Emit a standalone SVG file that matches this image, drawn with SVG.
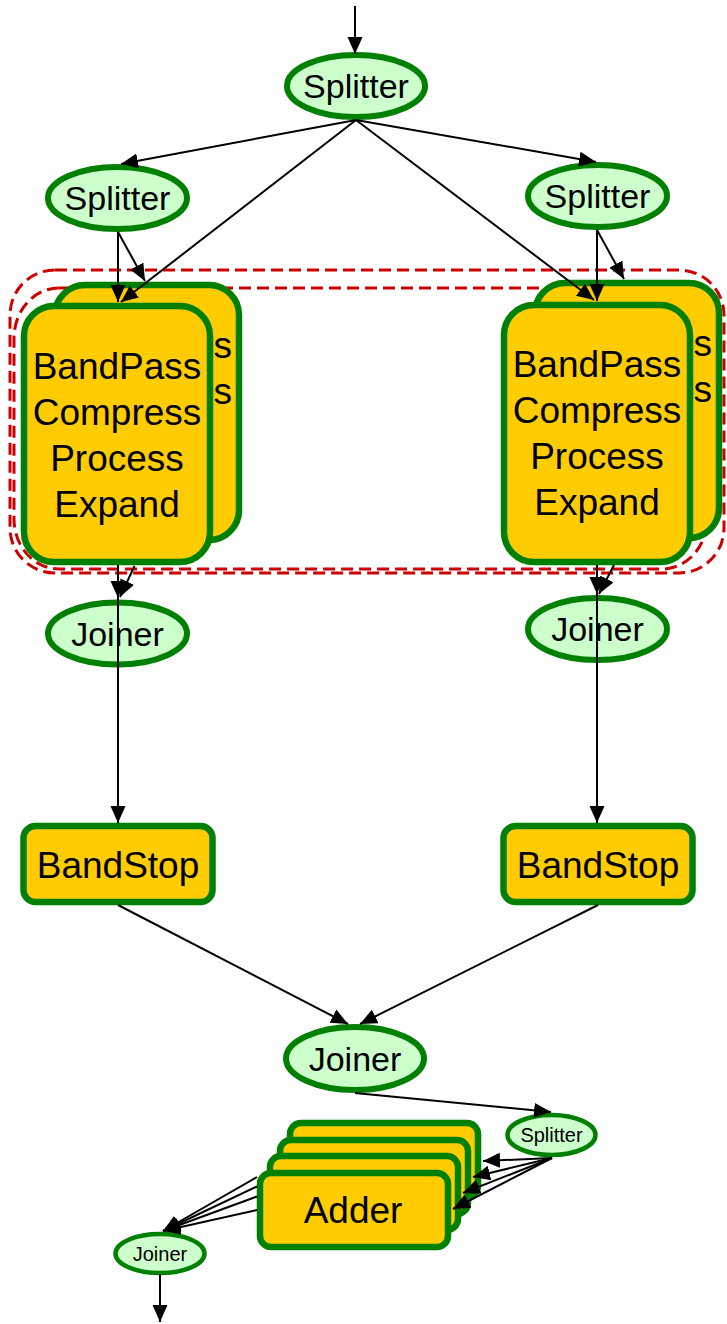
<svg xmlns="http://www.w3.org/2000/svg" width="727" height="1324" viewBox="0 0 727 1324">
<defs>
<style>
.ell{fill:#ccffcc;stroke:#008000;stroke-width:6}
.ells{fill:#ccffcc;stroke:#008000;stroke-width:4.5}
.box{fill:#ffcc00;stroke:#008000;stroke-width:6.5}
.t{font-family:"Liberation Sans",Arial,sans-serif;fill:#000;text-anchor:middle}
.te{text-anchor:end}
.t34{font-size:34px}
.t37{font-size:37px}
.t20{font-size:20px}
.e{stroke:#000;stroke-width:2;fill:none;marker-end:url(#ah)}
.cl{fill:none;stroke:#cc0000;stroke-width:3;stroke-dasharray:12 6}
</style>
<marker id="ah" markerUnits="userSpaceOnUse" markerWidth="18" markerHeight="16" refX="17" refY="7.5" orient="auto">
<path d="M0,0 L17,7.5 L0,15 z" fill="#000"/>
</marker>
</defs>
<rect width="727" height="1324" fill="#fff"/>

<g id="clusters">
<rect class="cl" x="10" y="270" width="714" height="303" rx="45" ry="45"/>
<rect class="cl" x="14" y="288" width="693" height="281" rx="45" ry="50"/>
</g>

<g id="splitter-top"><ellipse class="ell" cx="356" cy="86" rx="69" ry="31"/><text class="t t34" x="356" y="98">Splitter</text></g>
<g id="splitter-left"><ellipse class="ell" cx="117.5" cy="198" rx="69.5" ry="31"/><text class="t t34" x="117.5" y="210">Splitter</text></g>
<g id="splitter-right"><ellipse class="ell" cx="597.5" cy="196" rx="69.5" ry="31"/><text class="t t34" x="597.5" y="208">Splitter</text></g>

<g id="bp-left-back"><rect class="box" x="55" y="285" width="184" height="255" rx="30"/>
<text class="t te t37" x="232" y="358">s</text><text class="t te t37" x="232" y="404">s</text></g>
<g id="bp-left-front"><rect class="box" x="24" y="306" width="186" height="256" rx="30"/>
<text class="t t37" x="117" y="379">BandPass</text><text class="t t37" x="117" y="425">Compress</text><text class="t t37" x="117" y="471">Process</text><text class="t t37" x="117" y="517">Expand</text></g>

<g id="bp-right-back"><rect class="box" x="535" y="283" width="184" height="255" rx="30"/>
<text class="t te t37" x="712" y="356">s</text><text class="t te t37" x="712" y="402">s</text></g>
<g id="bp-right-front"><rect class="box" x="504" y="305" width="186" height="257" rx="30"/>
<text class="t t37" x="597" y="377">BandPass</text><text class="t t37" x="597" y="423">Compress</text><text class="t t37" x="597" y="469">Process</text><text class="t t37" x="597" y="515">Expand</text></g>

<g id="joiner-left"><ellipse class="ell" cx="117.5" cy="633.5" rx="69.5" ry="31"/><text class="t t34" x="117.5" y="645.5">Joiner</text></g>
<g id="joiner-right"><ellipse class="ell" cx="597.5" cy="629" rx="69.5" ry="31"/><text class="t t34" x="597.5" y="641">Joiner</text></g>

<g id="bandstop-left"><rect class="box" x="23.5" y="826" width="189" height="76" rx="12"/><text class="t t37" x="118" y="878">BandStop</text></g>
<g id="bandstop-right"><rect class="box" x="503.5" y="826" width="189" height="76" rx="12"/><text class="t t37" x="598" y="878">BandStop</text></g>

<g id="joiner-mid"><ellipse class="ell" cx="355" cy="1058.5" rx="69" ry="31.5"/><text class="t t34" x="355" y="1070.5">Joiner</text></g>

<g id="splitter-small"><ellipse class="ells" cx="551.5" cy="1135" rx="44" ry="20"/><text class="t t20" x="551.5" y="1142">Splitter</text></g>

<g id="adder-4"><rect class="box" x="290" y="1123" width="188" height="74" rx="11"/></g>
<g id="adder-3"><rect class="box" x="280" y="1140" width="188" height="74" rx="11"/></g>
<g id="adder-2"><rect class="box" x="270" y="1156" width="188" height="74" rx="11"/></g>
<g id="adder-1"><rect class="box" x="260" y="1173" width="188" height="74" rx="11"/><text class="t t37" x="353" y="1223">Adder</text></g>

<g id="joiner-small"><ellipse class="ells" cx="160" cy="1253.5" rx="44.5" ry="19.5"/><text class="t t20" x="160" y="1260.5">Joiner</text></g>

<g id="connectors">
<line class="e" x1="355" y1="6" x2="355" y2="54"/>
<line class="e" x1="356" y1="120" x2="121" y2="164"/>
<line class="e" x1="356" y1="120" x2="596" y2="162"/>
<line class="e" x1="356" y1="120" x2="121" y2="302"/>
<line class="e" x1="356" y1="120" x2="594" y2="300"/>
<line class="e" x1="118" y1="232" x2="118" y2="302"/>
<line class="e" x1="118" y1="232" x2="145" y2="281"/>
<line class="e" x1="597" y1="230" x2="597" y2="301"/>
<line class="e" x1="597" y1="230" x2="624" y2="279"/>
<line class="e" x1="118" y1="565" x2="118" y2="598"/>
<line class="e" x1="134.5" y1="566" x2="120" y2="597"/>
<line class="e" x1="597" y1="565" x2="597" y2="594"/>
<line class="e" x1="614" y1="565" x2="599" y2="594"/>
<line class="e" x1="118" y1="598" x2="118" y2="823"/>
<line class="e" x1="597" y1="594" x2="597" y2="823"/>
<line class="e" x1="118" y1="905" x2="348" y2="1024"/>
<line class="e" x1="598" y1="905" x2="360" y2="1024"/>
<line class="e" x1="355" y1="1093" x2="551" y2="1112"/>
<line class="e" x1="552" y1="1158" x2="483" y2="1161"/>
<line class="e" x1="552" y1="1158" x2="473" y2="1177"/>
<line class="e" x1="552" y1="1158" x2="463" y2="1193"/>
<line class="e" x1="552" y1="1158" x2="453" y2="1209"/>
<line class="e" x1="257" y1="1177" x2="163" y2="1231"/>
<line class="e" x1="257" y1="1186.5" x2="163" y2="1231"/>
<line class="e" x1="257" y1="1196.5" x2="163" y2="1231"/>
<line class="e" x1="257" y1="1210" x2="163" y2="1231"/>
<line class="e" x1="160" y1="1274" x2="160" y2="1322"/>
</g>
</svg>
